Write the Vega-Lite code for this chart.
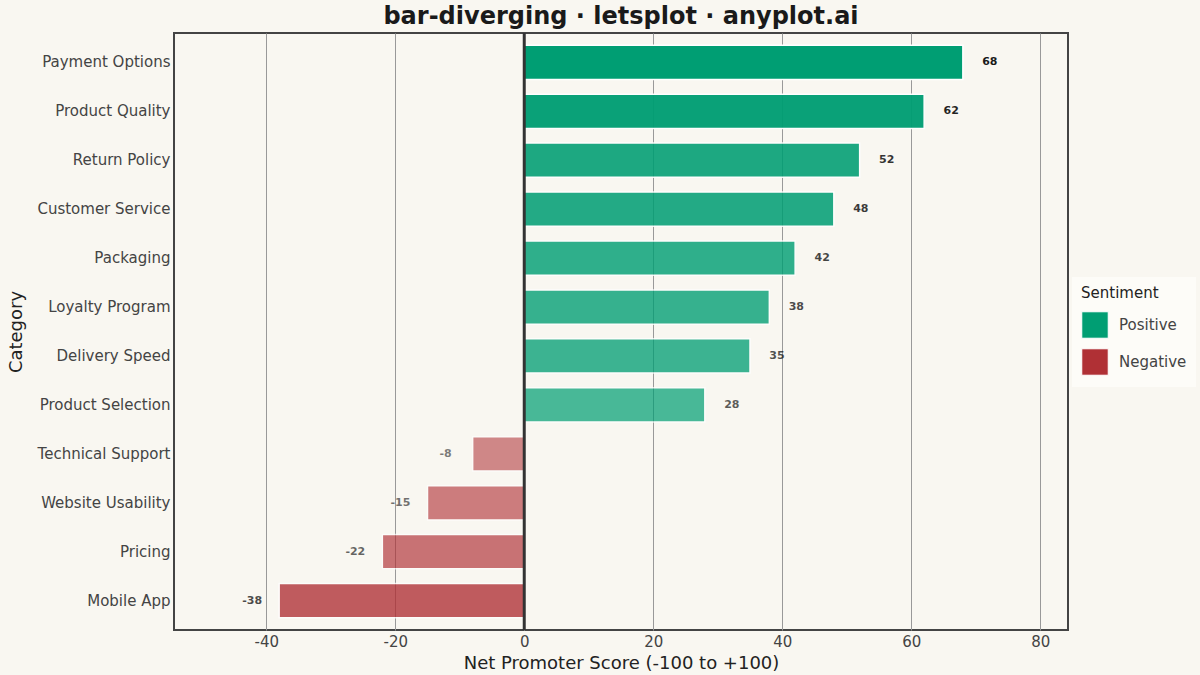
{
  "$schema": "https://vega.github.io/schema/vega-lite/v6.json",
  "width": 894,
  "height": 597,
  "autosize": {"type": "none"},
  "padding": {"left": 174, "top": 33, "right": 132, "bottom": 45},
  "background": "#F9F7F1",
  "title": {
    "text": "bar-diverging · letsplot · anyplot.ai",
    "font": "DejaVu Sans",
    "fontSize": 24,
    "fontWeight": "bold",
    "color": "#1a1a1a",
    "anchor": "middle",
    "offset": 3
  },
  "config": {
    "font": "DejaVu Sans",
    "view": {"stroke": "#444444", "strokeWidth": 2},
    "axis": {"labelFont": "DejaVu Sans", "titleFont": "DejaVu Sans"}
  },
  "data": {
    "values": [
      {"category": "Payment Options", "score": 68, "sentiment": "Positive"},
      {"category": "Product Quality", "score": 62, "sentiment": "Positive"},
      {"category": "Return Policy", "score": 52, "sentiment": "Positive"},
      {"category": "Customer Service", "score": 48, "sentiment": "Positive"},
      {"category": "Packaging", "score": 42, "sentiment": "Positive"},
      {"category": "Loyalty Program", "score": 38, "sentiment": "Positive"},
      {"category": "Delivery Speed", "score": 35, "sentiment": "Positive"},
      {"category": "Product Selection", "score": 28, "sentiment": "Positive"},
      {"category": "Technical Support", "score": -8, "sentiment": "Negative"},
      {"category": "Website Usability", "score": -15, "sentiment": "Negative"},
      {"category": "Pricing", "score": -22, "sentiment": "Negative"},
      {"category": "Mobile App", "score": -38, "sentiment": "Negative"}
    ]
  },
  "transform": [
    {"calculate": "abs(datum.score)", "as": "magnitude"},
    {"calculate": "toString(datum.score)", "as": "label"}
  ],
  "encoding": {
    "y": {
      "field": "category",
      "type": "nominal",
      "sort": ["Payment Options", "Product Quality", "Return Policy", "Customer Service", "Packaging", "Loyalty Program", "Delivery Speed", "Product Selection", "Technical Support", "Website Usability", "Pricing", "Mobile App"],
      "scale": {"paddingInner": 0.3, "paddingOuter": 0.25},
      "axis": {
        "title": "Category",
        "titleFontSize": 18,
        "titleFontWeight": "normal",
        "titleColor": "#222222",
        "titlePadding": 11,
        "labelFontSize": 15,
        "labelColor": "#444444",
        "labelPadding": 4,
        "ticks": false,
        "domain": false,
        "grid": false
      }
    }
  },
  "layer": [
    {
      "mark": {"type": "bar", "stroke": "white", "strokeWidth": 1.5},
      "encoding": {
        "x": {
          "field": "score",
          "type": "quantitative",
          "scale": {"domain": [-54.3, 84.3], "nice": false, "zero": false},
          "axis": {
            "title": "Net Promoter Score (-100 to +100)",
            "titleFontSize": 18,
            "titleFontWeight": "normal",
            "titleColor": "#222222",
            "titlePadding": 5,
            "values": [-40, -20, 0, 20, 40, 60, 80],
            "labelExpr": "toString(datum.value)",
            "labelFontSize": 15,
            "labelColor": "#444444",
            "labelPadding": 4,
            "ticks": false,
            "domain": false,
            "grid": true,
            "gridColor": "#999999",
            "gridWidth": 1
          }
        },
        "color": {
          "field": "sentiment",
          "type": "nominal",
          "scale": {"domain": ["Positive", "Negative"], "range": ["#009E73", "#B03035"]},
          "legend": {
            "title": "Sentiment",
            "orient": "none",
            "legendX": 898,
            "legendY": 244,
            "titleFontSize": 15,
            "titleFontWeight": "normal",
            "titleColor": "#222222",
            "labelFontSize": 15,
            "labelColor": "#444444",
            "symbolType": "square",
            "symbolSize": 700,
            "symbolOpacity": 1,
            "symbolStrokeColor": "white",
            "symbolStrokeWidth": 1,
            "rowPadding": 5,
            "labelOffset": 10,
            "titlePadding": 10,
            "padding": 9,
            "offset": 0,
            "fillColor": "#FDFCF8"
          }
        },
        "opacity": {
          "field": "magnitude",
          "type": "quantitative",
          "scale": {"domain": [0, 68], "range": [0.5, 1]},
          "legend": null
        }
      }
    },
    {
      "transform": [{"filter": "datum.sentiment == 'Positive'"}],
      "mark": {"type": "text", "dx": 27, "align": "center", "baseline": "middle", "fontSize": 11, "fontWeight": "bold", "color": "#1a1a1a"},
      "encoding": {
        "x": {"field": "score", "type": "quantitative"},
        "text": {"field": "label", "type": "nominal"},
        "opacity": {"field": "magnitude", "type": "quantitative", "scale": {"domain": [0, 68], "range": [0.5, 1]}, "legend": null}
      }
    },
    {
      "transform": [{"filter": "datum.sentiment == 'Negative'"}],
      "mark": {"type": "text", "dx": -27, "align": "center", "baseline": "middle", "fontSize": 11, "fontWeight": "bold", "color": "#1a1a1a"},
      "encoding": {
        "x": {"field": "score", "type": "quantitative"},
        "text": {"field": "label", "type": "nominal"},
        "opacity": {"field": "magnitude", "type": "quantitative", "scale": {"domain": [0, 68], "range": [0.5, 1]}, "legend": null}
      }
    },
    {
      "data": {"values": [{"ref": 0}]},
      "mark": {"type": "rule", "color": "#333333", "strokeWidth": 3},
      "encoding": {"x": {"field": "ref", "type": "quantitative"}, "y": {"value": 0}, "y2": {"value": 597}}
    }
  ]
}
